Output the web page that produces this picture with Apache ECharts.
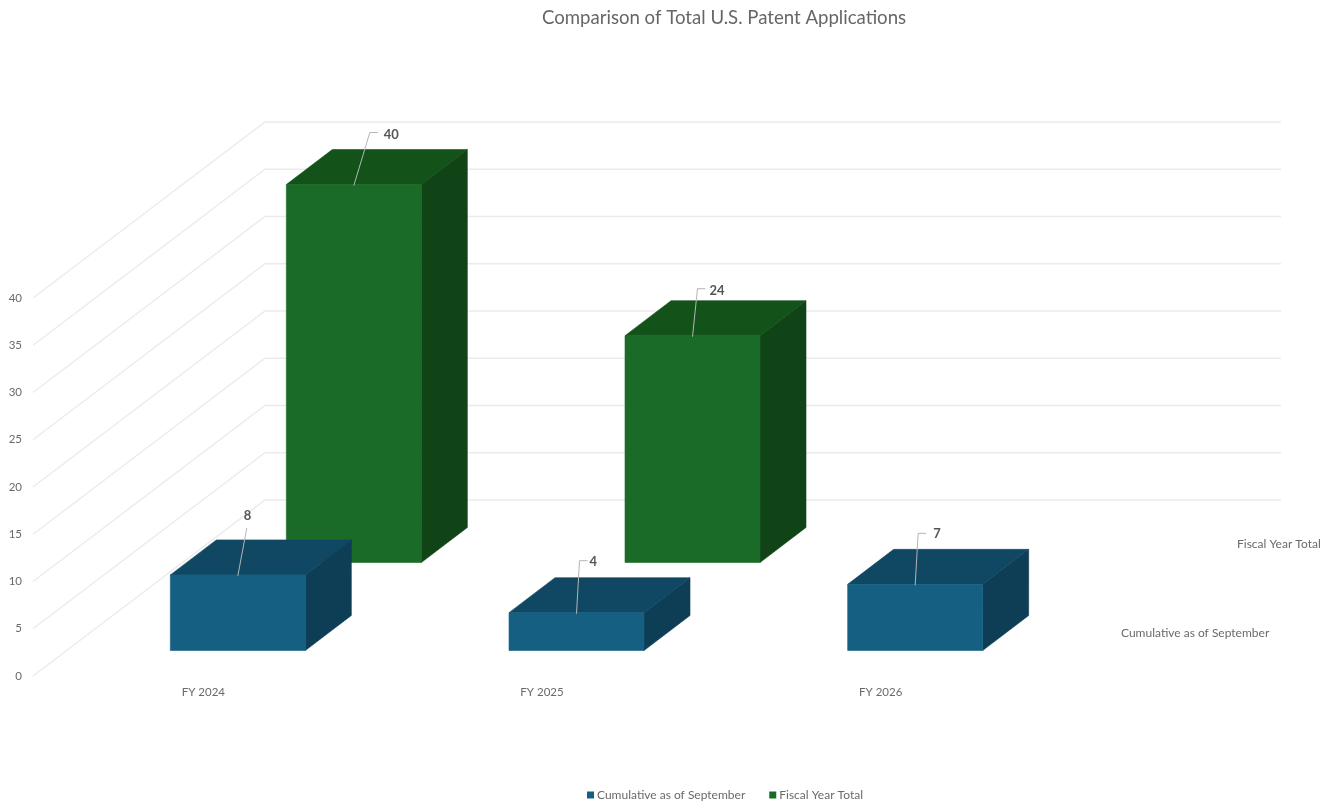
<!DOCTYPE html>
<html>
<head>
<meta charset="utf-8">
<style>html,body{margin:0;padding:0;background:#fff}#c{width:1322px;height:806px}</style>
<script src="https://cdn.jsdelivr.net/npm/echarts@6/dist/echarts.min.js"></script>
</head>
<body>
<div id="c"></div>
<script>
const titleText = 'Comparison of Total U.S. Patent Applications';
const categories = ['FY 2024', 'FY 2025', 'FY 2026'];
const cumulativeName = 'Cumulative as of September';
const fiscalName = 'Fiscal Year Total';
const cumulativeValues = [8, 4, 7];
const fiscalValues = [40, 24, null];
const yTicks = [0, 5, 10, 15, 20, 25, 30, 35, 40];

const FONT = 'Lato';
const TEXT = '#6a6a6a';
const DEPTH_X = 232, DEPTH_Y = 176;     // projection of the floor depth
const BAR_W = 135, BAR_DX = 46, BAR_DY = 35;

const cumulativeLeaders = [[9, -47, 0, 6, -59], [3, -52, 8, 13, -51], [3, -51, 8, 18, -51]];
const fiscalLeaders = [[16, -52, 8, 30, -50], [5, -47, 8, 17, -45], null];

function barRenderer(rowFrac, palette, leaders) {
  return function (params, api) {
    const idx = api.value(0), v = api.value(1);
    const p = api.coord([idx, 0]);
    const h = api.size([0, v])[1];
    const xl = p[0] + rowFrac * DEPTH_X - BAR_DX / 2 - BAR_W / 2 + 0.5;
    const yb = p[1] - rowFrac * DEPTH_Y + BAR_DY / 2 + 1;
    const xr = xl + BAR_W, yt = yb - h;
    const xc = xl + BAR_W / 2;
    const L = leaders[idx];
    const leaderPts = L[2] === 0
      ? [[xc, yt + 1], [xc + L[0], yt + L[1]]]
      : [[xc, yt + 1], [xc + L[0], yt + L[1]], [xc + L[0] + L[2], yt + L[1]]];
    const solid = c => ({ fill: c, stroke: c, lineWidth: 0.6 });
    return {
      type: 'group',
      children: [
        { type: 'polygon', shape: { points: [[xr, yb], [xr + BAR_DX, yb - BAR_DY], [xr + BAR_DX, yt - BAR_DY], [xr, yt]] }, style: solid(palette.side) },
        { type: 'polygon', shape: { points: [[xl, yt], [xl + BAR_DX, yt - BAR_DY], [xr + BAR_DX, yt - BAR_DY], [xr, yt]] }, style: solid(palette.top) },
        { type: 'rect', shape: { x: xl, y: yt, width: BAR_W, height: h }, style: solid(palette.front) },
        { type: 'polyline', shape: { points: leaderPts }, style: { fill: 'none', stroke: '#b5b5b5', lineWidth: 1 } },
        { type: 'text', style: { x: xc + L[3], y: yt + L[4], text: String(v), font: 'bold 13px ' + FONT, fill: '#555', align: 'left', verticalAlign: 'middle' } }
      ]
    };
  };
}

const option = {
  backgroundColor: '#fff',
  animation: false,
  textStyle: { fontFamily: FONT },
  title: {
    text: titleText, left: 719, top: 3, textAlign: 'center',
    textStyle: { fontFamily: FONT, fontSize: 18.6, fontWeight: 'normal', color: '#666' }
  },
  legend: {
    data: [cumulativeName, fiscalName], left: 582, top: 784, icon: 'rect',
    itemWidth: 7, itemHeight: 7, itemGap: 24,
    textStyle: { fontFamily: FONT, fontSize: 12, color: TEXT, padding: [0, 0, 0, -2] }
  },
  grid: { left: 33, top: 298, width: 1016, height: 378, containLabel: false },
  xAxis: {
    type: 'category', data: categories,
    axisLine: { show: false }, axisTick: { show: false }, splitLine: { show: false },
    axisLabel: { margin: 10, fontFamily: FONT, fontSize: 11.5, color: TEXT, padding: [0, 0, 0, 2] }
  },
  yAxis: {
    type: 'value', min: 0, max: 40, interval: 5,
    axisLine: { show: false }, axisTick: { show: false }, splitLine: { show: false },
    axisLabel: { margin: 11, fontFamily: FONT, fontSize: 11.5, color: TEXT, padding: [4, 0, 0, 0] }
  },
  series: [
    {
      name: 'walls', type: 'custom', silent: true, z: 1, clip: false,
      data: yTicks.map(t => [0, t]),
      renderItem(params, api) {
        const t = api.value(1);
        const p = api.coord([0, t]);
        const x0 = params.coordSys.x, w = params.coordSys.width;
        return {
          type: 'polyline',
          shape: { points: [[x0, p[1]], [x0 + DEPTH_X, p[1] - DEPTH_Y], [x0 + DEPTH_X + w, p[1] - DEPTH_Y]] },
          style: { fill: 'none', stroke: '#ebebeb', lineWidth: 1.3 }
        };
      }
    },
    {
      name: 'depth labels', type: 'custom', silent: true, z: 1, clip: false,
      data: [[0.25], [0.75]],
      renderItem(params, api) {
        const frac = api.value(0);
        const label = frac < 0.5 ? cumulativeName : fiscalName;
        const p = api.coord([0, 0]);
        const x = params.coordSys.x + params.coordSys.width + frac * DEPTH_X + 14;
        return {
          type: 'text',
          style: { x: x, y: p[1] - frac * DEPTH_Y + (frac < 0.5 ? 1 : 0), text: label, font: '12px ' + FONT, fill: TEXT, align: 'left', verticalAlign: 'middle' }
        };
      }
    },
    {
      name: fiscalName, type: 'custom', z: 2, clip: false,
      itemStyle: { color: '#196B24' },
      data: fiscalValues.map((v, i) => [i, v]).filter(d => d[1] !== null),
      renderItem: barRenderer(0.75, { front: '#1a6b27', top: '#135218', side: '#104417' }, fiscalLeaders)
    },
    {
      name: cumulativeName, type: 'custom', z: 3, clip: false,
      itemStyle: { color: '#156082' },
      data: cumulativeValues.map((v, i) => [i, v]),
      renderItem: barRenderer(0.25, { front: '#156082', top: '#104864', side: '#0d3e55' }, cumulativeLeaders)
    }
  ]
};
echarts.init(document.getElementById('c')).setOption(option);
</script>
</body>
</html>
